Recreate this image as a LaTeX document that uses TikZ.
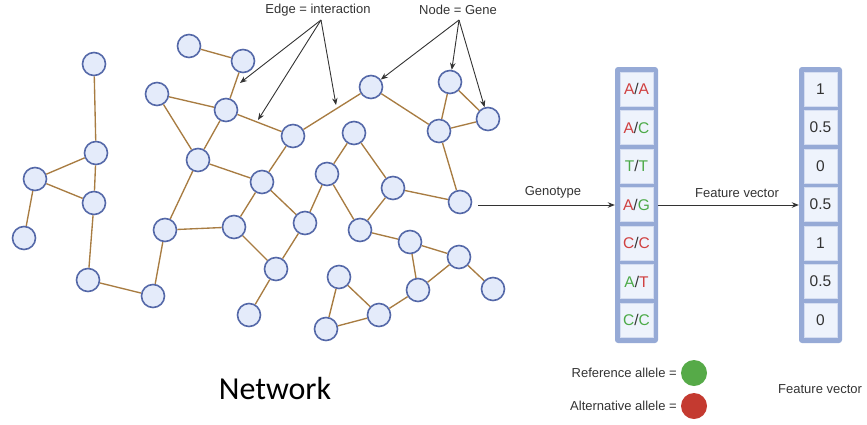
\documentclass[tikz,border=0pt]{standalone}
\usepackage{fontspec}
\setmainfont{Liberation Sans}
\newfontfamily\netfont{Carlito}
\usetikzlibrary{arrows.meta}

\definecolor{nodefill}{RGB}{228,235,250}
\definecolor{nodeline}{RGB}{84,104,168}
\definecolor{edgecol}{RGB}{168,124,66}
\definecolor{colfill}{RGB}{150,170,214}
\definecolor{cellfill}{RGB}{238,243,252}
\definecolor{refgreen}{RGB}{86,170,72}
\definecolor{altred}{RGB}{196,58,48}
\definecolor{txtred}{RGB}{208,64,64}
\definecolor{txtgreen}{RGB}{76,170,72}
\definecolor{txtgray}{RGB}{51,51,51}

\newcommand\altc[1]{\textcolor{txtred}{#1}}
\newcommand\refc[1]{\textcolor{txtgreen}{#1}}
\newcommand\slsh{\textcolor{txtgray}{/}}

\begin{document}
\begin{tikzpicture}[x=1pt,y=-1pt,
 gene/.style={circle,draw=nodeline,fill=nodefill,line width=1.6pt,minimum size=23pt,inner sep=0pt},
 link/.style={draw=edgecol,line width=1.35pt},
 annot/.style={draw=txtgray,line width=0.9pt,-{Stealth[length=7pt,width=5.5pt]}},
 lbl/.style={font=\fontsize{13}{15}\selectfont,text=txtgray,inner sep=0pt},
 cell/.style={fill=cellfill,draw=cellfill!70!colfill,line width=0.4pt,minimum width=33pt,minimum height=34pt,inner sep=0pt,font=\fontsize{15.5}{17}\selectfont,text=txtgray},
 column/.style={fill=colfill,rounded corners=3pt,draw=none,minimum width=43pt,minimum height=276pt,inner sep=0pt},
 dot/.style={circle,minimum size=26pt,inner sep=0pt,draw=none}
]
\useasboundingbox (0,0) rectangle (867,424);

% ---- genes
\node[gene] (n1) at (94,64) {};
\node[gene] (n2) at (96,153) {};
\node[gene] (n3) at (35,179) {};
\node[gene] (n4) at (94,203) {};
\node[gene] (n5) at (24,238) {};
\node[gene] (n6) at (88,280) {};
\node[gene] (n7) at (153,296) {};
\node[gene] (n8) at (165,230) {};
\node[gene] (nA) at (189,46) {};
\node[gene] (nB) at (243,61) {};
\node[gene] (nC) at (157,94) {};
\node[gene] (nD) at (226,110) {};
\node[gene] (nE) at (293,136) {};
\node[gene] (nF) at (198,160) {};
\node[gene] (nG) at (262,182) {};
\node[gene] (nH) at (234,227) {};
\node[gene] (nI) at (276,269) {};
\node[gene] (nJ) at (249,315) {};
\node[gene] (nK) at (305,223) {};
\node[gene] (nL) at (371,87) {};
\node[gene] (nM) at (354,133) {};
\node[gene] (nN) at (327,174) {};
\node[gene] (nO) at (393,188) {};
\node[gene] (nP) at (450,82) {};
\node[gene] (nQ) at (488,119) {};
\node[gene] (nR) at (439,131) {};
\node[gene] (nS) at (460,202) {};
\node[gene] (nT) at (360,230) {};
\node[gene] (nU) at (410,242) {};
\node[gene] (nV) at (459,257) {};
\node[gene] (nW) at (493,289) {};
\node[gene] (nX) at (418,290) {};
\node[gene] (nY) at (339,277) {};
\node[gene] (nZ) at (379,315) {};
\node[gene] (nAA) at (326,329) {};

% ---- interactions
\foreach \a/\b in {n1/n2,n2/n3,n2/n4,n3/n4,n3/n5,n4/n6,n6/n7,n7/n8,n8/nF,n8/nH,
  nA/nB,nB/nD,nC/nD,nC/nF,nD/nF,nD/nE,nE/nG,nE/nL,nF/nG,nG/nH,nG/nK,nH/nI,nI/nJ,nI/nK,
  nK/nN,nN/nM,nN/nT,nM/nO,nL/nR,nP/nR,nP/nQ,nR/nQ,nR/nS,nO/nS,nT/nO,nT/nU,nU/nV,nU/nX,
  nV/nX,nV/nW,nX/nZ,nY/nZ,nY/nAA,nAA/nZ}
  \draw[link] (\a) -- (\b);

% ---- annotations
\node[lbl] (edgelbl) at (318,10) {Edge = interaction};
\node[lbl] (nodelbl) at (458,10) {Node = Gene};
\coordinate (eo) at (321,20);
\coordinate (no) at (459,20);
\coordinate (e1) at (240,83);
\coordinate (e2) at (258,120);
\coordinate (e3) at (336,105);
\draw[annot] (eo) -- (e1);
\draw[annot] (eo) -- (e2);
\draw[annot] (eo) -- (e3);
\draw[annot] (no) -- (nL);
\draw[annot] (no) -- (nP);
\draw[annot] (no) -- (nQ);

% ---- genotype column
\node[column] (gcol) at (636.5,205) {};
\node[cell] (g1) at (636.5,89) {\altc{A}\slsh\altc{A}};
\node[cell] (g2) at (636.5,127.5) {\altc{A}\slsh\refc{C}};
\node[cell] (g3) at (636.5,166) {\refc{T}\slsh\refc{T}};
\node[cell] (g4) at (636.5,204.5) {\altc{A}\slsh\refc{G}};
\node[cell] (g5) at (636.5,243) {\altc{C}\slsh\altc{C}};
\node[cell] (g6) at (636.5,281.5) {\refc{A}\slsh\altc{T}};
\node[cell] (g7) at (636.5,320) {\refc{C}\slsh\refc{C}};

% ---- feature column
\node[column] (fcol) at (820.5,205) {};
\node[cell] (f1) at (820.5,89) {1};
\node[cell] (f2) at (820.5,127.5) {0.5};
\node[cell] (f3) at (820.5,166) {0};
\node[cell] (f4) at (820.5,204.5) {0.5};
\node[cell] (f5) at (820.5,243) {1};
\node[cell] (f6) at (820.5,281.5) {0.5};
\node[cell] (f7) at (820.5,320) {0};

% ---- process arrows
\coordinate (gstart) at (478,205);
\draw[annot] (gstart) -- (gcol.west);
\node[lbl] (genolbl) at (553,192) {Genotype};
\draw[annot] (gcol.east) -- (fcol.west);
\node[lbl] (featlbl) at (737,193) {Feature vector};

% ---- legend
\node[lbl,anchor=east] (reflbl) at (677,373) {Reference allele =};
\node[dot,fill=refgreen] (refdot) at (694,373) {};
\node[lbl,anchor=east] (altlbl) at (677,406) {Alternative allele =};
\node[dot,fill=altred] (altdot) at (694,406) {};
\node[lbl,anchor=west] (featlbl2) at (778,389) {Feature vector};

\node[font=\netfont\fontsize{32}{36}\selectfont,inner sep=0pt] (netlbl) at (275,388) {Network};
\end{tikzpicture}
\end{document}
